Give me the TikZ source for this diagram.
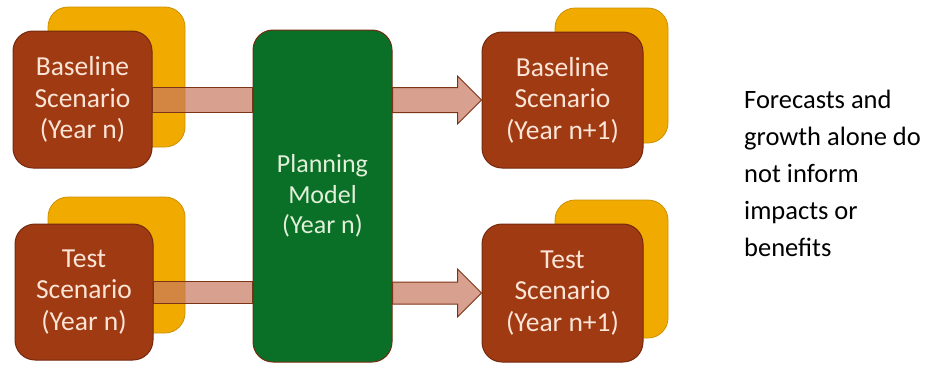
\documentclass[tikz,border=0pt]{standalone}
\usepackage{fontspec}
\setmainfont{Carlito}
\usetikzlibrary{calc}

\definecolor{scenred}{RGB}{160,58,18}
\definecolor{scenedge}{RGB}{115,42,14}
\definecolor{scengold}{RGB}{240,170,0}
\definecolor{goldedge}{RGB}{205,145,0}
\definecolor{plangreen}{RGB}{10,112,40}
\definecolor{barfill}{RGB}{200,120,95}
\definecolor{baredge}{RGB}{125,52,22}
\definecolor{cream}{RGB}{252,228,214}
\definecolor{mint}{RGB}{226,240,217}

\begin{document}
\begin{tikzpicture}[x=1pt,y=-1pt,
	back/.style={fill=scengold,draw=goldedge,line width=0.8pt,rounded corners=20pt,inner sep=0pt},
	scen/.style={fill=scenred,draw=scenedge,line width=1pt,rounded corners=20pt,inner sep=0pt,
		text=cream,align=center,font=\fontsize{27.5}{31.5}\selectfont},
	plan/.style={scen,fill=plangreen,text=mint,font=\fontsize{26}{30.5}\selectfont},
	bar/.style={fill=barfill,fill opacity=0.7,draw=baredge,line width=1pt}]

	\useasboundingbox (0,0) rectangle (928,365);

	% cards behind
	\node[back,minimum width=137,minimum height=140] (tlb) at (116.5,77) {};
	\node[back,minimum width=137,minimum height=136] (blb) at (116.5,265) {};
	\node[back,minimum width=113,minimum height=135] (trb) at (611.5,75.5) {};
	\node[back,minimum width=113,minimum height=138] (brb) at (611.5,269) {};

	% scenarios
	\node[scen,minimum width=139,minimum height=137] (tlr) at (82.5,99.5) {Baseline\\Scenario\\(Year n)};
	\node[scen,minimum width=138,minimum height=136] (blr) at (84,292) {Test\\Scenario\\(Year n)};
	\node[scen,minimum width=161,minimum height=136] (trr) at (562.5,100) {Baseline\\Scenario\\(Year n+1)};
	\node[scen,minimum width=161,minimum height=138] (brr) at (562.5,293) {Test\\Scenario\\(Year n+1)};

	% model
	\node[plan,minimum width=139,minimum height=332] (pm) at (322.5,196) {Planning\\Model\\(Year n)};

	% into the model
	\draw[bar] ($(tlr.east)+(0,-12.5)$) rectangle ($(pm.west |- tlr.east)+(0,12.5)$);
	\draw[bar] ($(blr.east)+(0,-11)$) rectangle ($(pm.west |- blr.east)+(0,11)$);

	% out of the model
	\draw[bar] ($(pm.east |- trr.west)+(0,-12.5)$) -- ($(trr.west)+(-24,-12.5)$)
		-- ($(trr.west)+(-24,-24)$) -- (trr.west) -- ($(trr.west)+(-24,24)$)
		-- ($(trr.west)+(-24,12.5)$) -- ($(pm.east |- trr.west)+(0,12.5)$) -- cycle;
	\draw[bar] ($(pm.east |- brr.west)+(0,-11)$) -- ($(brr.west)+(-24,-11)$)
		-- ($(brr.west)+(-24,-24)$) -- (brr.west) -- ($(brr.west)+(-24,24)$)
		-- ($(brr.west)+(-24,11)$) -- ($(pm.east |- brr.west)+(0,11)$) -- cycle;

	\node[anchor=north west,inner sep=0pt,align=left,font=\fontsize{26.5}{37}\selectfont] (note) at (744,90)
		{Forecasts and\\growth alone do\\not inform\\impacts or\\benefits};

\end{tikzpicture}
\end{document}
